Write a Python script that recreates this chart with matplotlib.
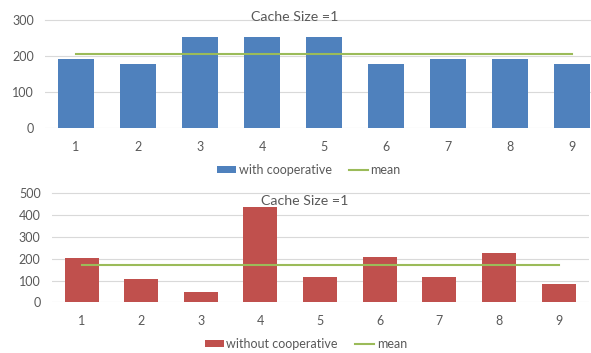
import numpy as np
import matplotlib.pyplot as plt

plt.rcParams['font.family'] = ['Lato', 'DejaVu Sans']

categories = [1, 2, 3, 4, 5, 6, 7, 8, 9]
with_coop = [191, 177, 252, 252, 252, 177, 191, 191, 177]
without_coop = [205, 108, 49, 438, 117, 206, 115, 225, 83]
title = 'Cache Size =1'

blue = '#4F81BD'
red = '#C0504D'
green = '#9BBB59'
grid_c = '#D9D9D9'
text_c = '#595959'

fig = plt.figure(figsize=(5.91, 3.53), dpi=100)
ax1 = fig.add_axes([0.0761, 0.6365, 0.9239, 0.3068])
ax2 = fig.add_axes([0.0875, 0.1436, 0.9083, 0.3088])


def style(ax, ymax, step):
    for s in ax.spines.values():
        s.set_visible(False)
    ax.set_ylim(0, ymax)
    ax.set_yticks(np.arange(0, ymax + 1, step))
    ax.set_xticks(categories)
    ax.yaxis.grid(True, color=grid_c, linewidth=0.8)
    ax.set_axisbelow(True)
    ax.tick_params(length=0, labelsize=9, colors=text_c)
    ax.tick_params(axis='x', pad=9)
    ax.tick_params(axis='y', pad=8)


# top panel: with cooperative caching
x = np.array(categories)
b1 = ax1.bar(x, with_coop, width=0.57, color=blue, label='with cooperative')
l1, = ax1.plot(x, [np.mean(with_coop)] * len(x), color=green, linewidth=1.5, label='mean')
style(ax1, 300, 100)
ax1.set_xlim(0.5, 9.306)
ax1.get_ygridlines()[-1].set_clip_on(False)

# bottom panel: without cooperative caching
b2 = ax2.bar(x, without_coop, width=0.57, color=red, label='without cooperative')
l2, = ax2.plot(x, [np.mean(without_coop)] * len(x), color=green, linewidth=1.5, label='mean')
style(ax2, 500, 100)
ax2.set_xlim(0.5, 9.5)
ax2.get_ygridlines()[-1].set_clip_on(False)

fig.text(295 / 591, 1 - 17 / 353, title, ha='center', va='center', fontsize=10.2, color=text_c)
fig.text(305 / 591, 1 - 201 / 353, title, ha='center', va='center', fontsize=10.2, color=text_c)

for ax, hs, yc, xc in [(ax1, [b1, l1], 170, 309), (ax2, [b2, l2], 344, 306)]:
    ax.legend(handles=hs, loc='center', bbox_to_anchor=(xc / 591, 1 - yc / 353),
              bbox_transform=fig.transFigure, ncol=2, frameon=False,
              fontsize=9, labelcolor=text_c, handlelength=1.5, handleheight=0.45,
              handletextpad=0.2, columnspacing=1.4, borderpad=0)

fig.savefig('out.png', dpi=100)
